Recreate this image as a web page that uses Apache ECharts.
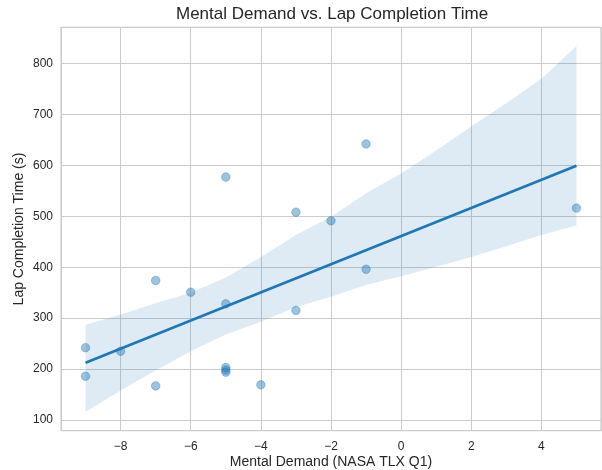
<!DOCTYPE html>
<html>
<head>
<meta charset="utf-8">
<script src="https://cdn.jsdelivr.net/npm/echarts@6/dist/echarts.min.js"></script>
<style>
html,body{margin:0;padding:0;background:#fff;}
#chart{width:602px;height:470px;}
</style>
</head>
<body>
<div id="chart"></div>
<script>
// Scatter data (Mental Demand score, lap time in s)
const mentalDemand = [-9, -9, -8, -7, -7, -6, -5, -5, -5, -5, -5, -4, -3, -3, -2, -1, -1, 5];
const lapTimes     = [242, 186, 235, 374, 167, 351, 577, 328, 203, 198, 194, 169, 508, 315, 491, 642, 396, 516];

// Regression line endpoints
const fitX = [-9, 5];
const fitY = [212.6, 599];

// Confidence band edges
const bandX     = [-9, -8, -7, -6, -5, -4, -3, -2, -1, 0, 1, 2, 3, 4, 5];
const bandLower = [116, 158, 197, 235, 268, 293, 322, 342, 365, 382, 401, 420, 441, 463, 482];
const bandUpper = [287, 307, 329, 350, 380, 420, 463, 499, 545, 584, 629, 676, 722, 770, 834];

const titleText = 'Mental Demand vs. Lap Completion Time';
const xName = 'Mental Demand (NASA TLX Q1)';
const yName = 'Lap Completion Time (s)';

const FONT = '"Liberation Sans", Arial, sans-serif';
const BLUE = '#1f77b4';

const chart = echarts.init(document.getElementById('chart'), null, {renderer: 'canvas'});

const scatterData = mentalDemand.map((x, i) => [x, lapTimes[i]]);
const fitData = fitX.map((x, i) => [x, fitY[i]]);

const option = {
  animation: false,
  backgroundColor: '#ffffff',
  title: {
    text: titleText,
    left: 176,
    top: 6,
    padding: 0,
    textStyle: {fontFamily: FONT, fontSize: 17, fontWeight: 'normal', color: '#262626'}
  },
  grid: {
    left: 61, right: 1, top: 27.3, bottom: 39.3,
    containLabel: false,
    outerBoundsMode: 'none',
    show: true, borderColor: '#cccccc', borderWidth: 1.2, backgroundColor: 'transparent'
  },
  xAxis: {
    type: 'value',
    min: -9.7, max: 5.7,
    splitNumber: 8,
    minInterval: 2, maxInterval: 2,
    name: xName,
    nameLocation: 'middle',
    nameGap: 24,
    nameMoveOverlap: false,
    nameTextStyle: {fontFamily: FONT, fontSize: 14, color: '#262626'},
    axisLine: {show: false},
    axisTick: {show: false},
    axisLabel: {
      fontFamily: FONT, fontSize: 12, color: '#262626', margin: 10,
      showMinLabel: false, showMaxLabel: false,
      formatter: v => String(v).replace('-', '\u2212')
    },
    splitLine: {show: true, lineStyle: {color: '#cccccc', width: 1}}
  },
  yAxis: {
    type: 'value',
    min: 79, max: 871,
    splitNumber: 8,
    minInterval: 100, maxInterval: 100,
    name: yName,
    nameLocation: 'middle',
    nameGap: 35,
    nameMoveOverlap: false,
    nameRotate: 90,
    nameTextStyle: {fontFamily: FONT, fontSize: 14, color: '#262626'},
    axisLine: {show: false},
    axisTick: {show: false},
    axisLabel: {
      fontFamily: FONT, fontSize: 12, color: '#262626', margin: 8,
      showMinLabel: false, showMaxLabel: false
    },
    splitLine: {show: true, lineStyle: {color: '#cccccc', width: 1}}
  },
  series: [
    {
      type: 'scatter',
      data: scatterData,
      symbolSize: 8.5,
      itemStyle: {color: 'rgba(31,119,180,0.55)', borderColor: 'rgba(31,119,180,0.45)', borderWidth: 1},
      z: 2
    },
    {
      type: 'custom',
      data: [0],
      clip: true,
      z: 3,
      renderItem: function (params, api) {
        const pts = [];
        for (let i = 0; i < bandX.length; i++) pts.push(api.coord([bandX[i], bandUpper[i]]));
        for (let i = bandX.length - 1; i >= 0; i--) pts.push(api.coord([bandX[i], bandLower[i]]));
        return {
          type: 'polygon',
          shape: {points: pts},
          style: {fill: 'rgba(31,119,180,0.15)', stroke: null}
        };
      },
      silent: true
    },
    {
      type: 'line',
      data: fitData,
      symbol: 'none',
      lineStyle: {color: BLUE, width: 2.7},
      z: 4
    }
  ]
};
chart.setOption(option);
</script>
</body>
</html>
